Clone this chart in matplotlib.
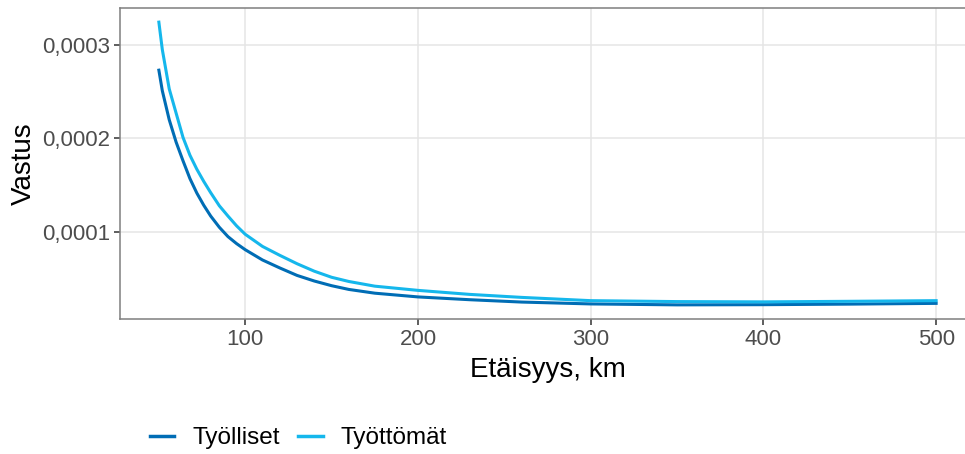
import matplotlib.pyplot as plt
from matplotlib.lines import Line2D
from matplotlib.ticker import FuncFormatter

plt.rcParams['font.family'] = ['Liberation Sans', 'DejaVu Sans']

distance = [50, 52, 56, 60, 64, 68, 72, 76, 80, 85, 90, 95, 100, 110, 120, 130,
            140, 150, 160, 175, 200, 230, 260, 300, 350, 400, 450, 500]
tyolliset = [2.73, 2.51, 2.20, 1.96, 1.76, 1.57, 1.415, 1.285, 1.17, 1.05, 0.95,
             0.875, 0.81, 0.70, 0.615, 0.535, 0.475, 0.425, 0.385, 0.345, 0.305,
             0.275, 0.25, 0.23, 0.22, 0.222, 0.228, 0.236]
tyottomat = [3.244, 2.95, 2.53, 2.27, 2.01, 1.82, 1.67, 1.54, 1.42, 1.28, 1.17,
             1.065, 0.975, 0.845, 0.75, 0.66, 0.58, 0.515, 0.47, 0.42, 0.375,
             0.332, 0.30, 0.265, 0.255, 0.252, 0.258, 0.265]
tyolliset = [v * 1e-4 for v in tyolliset]
tyottomat = [v * 1e-4 for v in tyottomat]

dark = '#006db5'
light = '#15b7ec'

fig = plt.figure(figsize=(9.65, 4.54), dpi=100)
# panel runs past the right edge of the image, as in the original
ax = fig.add_axes([120 / 965, 1 - 319 / 454, 855 / 965, 311 / 454])

ax.plot(distance, tyolliset, color=dark, lw=2.2, solid_joinstyle='round')
ax.plot(distance, tyottomat, color=light, lw=2.2, solid_joinstyle='round')

ax.set_xlim(27.5, 522.5)
ymin = min(tyolliset)
ymax = max(tyottomat)
pad = (ymax - ymin) * 0.05
ax.set_ylim(ymin - pad, ymax + pad)

ax.set_xticks([100, 200, 300, 400, 500])
ax.set_yticks([0.0001, 0.0002, 0.0003])
ax.yaxis.set_major_formatter(FuncFormatter(lambda v, p: ('%.4f' % v).replace('.', ',')))

ax.grid(True, color='#e5e5e5', lw=1.1)
ax.set_axisbelow(True)
for s in ax.spines.values():
    s.set_color('#7f7f7f')
    s.set_linewidth(1.1)
ax.tick_params(colors='#333333', labelcolor='#4d4d4d', labelsize=16, length=4, width=1.1, pad=3)

ax.set_xlabel('Etäisyys, km', fontsize=20, color='black', labelpad=5)
ax.set_ylabel('Vastus', fontsize=20, color='black', labelpad=4)

legend_elements = [Line2D([0], [0], color=dark, lw=2.5, label='Työlliset'),
                   Line2D([0], [0], color=light, lw=2.5, label='Työttömät')]
fig.legend(handles=legend_elements, loc='center left', bbox_to_anchor=(150 / 965, 0.035),
           ncol=2, frameon=False, fontsize=17.5, handlelength=1.0, handletextpad=0.75,
           columnspacing=0.75, borderpad=0, borderaxespad=0)

fig.savefig('out.png', dpi=100)
